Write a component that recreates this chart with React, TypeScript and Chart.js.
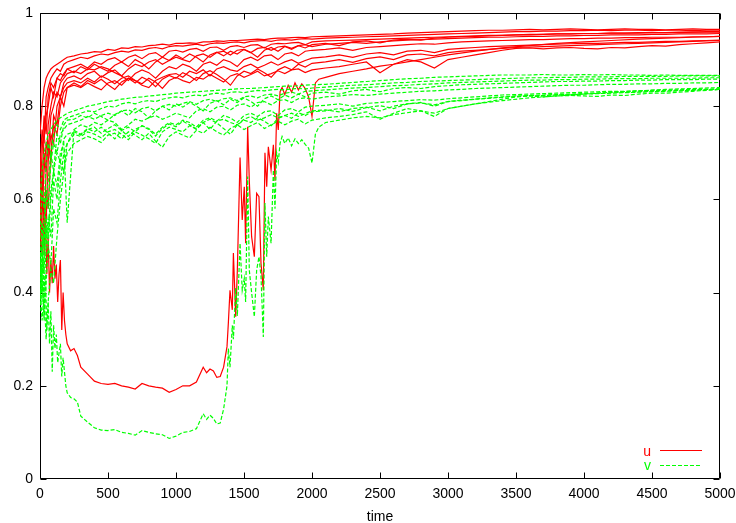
import React, { useEffect, useRef } from "react";
import { Chart, registerables } from "chart.js";

Chart.register(...registerables);

// ---- axis ticks ----
const X_TICKS = [0, 500, 1000, 1500, 2000, 2500, 3000, 3500, 4000, 4500, 5000];
const Y_TICKS = [0, 0.2, 0.4, 0.6, 0.8, 1];

// ---- common time grid for the regular runs ----
const TIME = [
  0, 15, 30, 45, 60, 80, 100, 125, 150, 175, 200,
  250, 300, 350, 400, 450, 500, 550, 600, 650, 700, 750, 800, 850, 900, 950, 1000,
  1050, 1100, 1150, 1200, 1250, 1300, 1350, 1400, 1450, 1500, 1550, 1600, 1650, 1700,
  1750, 1800, 1850, 1900, 1950, 2000,
  2100, 2200, 2300, 2400, 2500, 2600, 2700, 2800, 2900, 3000, 3100, 3200, 3300, 3400,
  3500, 3600, 3700, 3800, 3900, 4000, 4100, 4200, 4300, 4400, 4500, 4600, 4700, 4800, 4900, 5000,
];

// ---- u runs (red) ----
const U1 = [
  0.74, 0.8, 0.84, 0.86, 0.87, 0.88, 0.885, 0.89, 0.895, 0.9, 0.905,
  0.908, 0.912, 0.914, 0.917, 0.916, 0.922, 0.92, 0.925, 0.924, 0.928, 0.927, 0.93, 0.931, 0.933, 0.931, 0.935, 0.935, 0.936, 0.935, 0.938, 0.938, 0.94, 0.939, 0.941, 0.941, 0.942, 0.943, 0.944, 0.943, 0.945, 0.946, 0.946, 0.947, 0.948, 0.947, 0.949,
  0.95, 0.951, 0.952, 0.953, 0.954, 0.955, 0.957, 0.958, 0.959, 0.96, 0.961, 0.962, 0.963, 0.963, 0.964, 0.965, 0.964, 0.965, 0.966, 0.965, 0.964, 0.965, 0.966, 0.965, 0.965, 0.964, 0.965, 0.966, 0.965, 0.965,
];
const U2 = [
  0.66, 0.75, 0.72, 0.82, 0.84, 0.86, 0.87, 0.88, 0.875, 0.89, 0.895,
  0.9, 0.905, 0.902, 0.908, 0.912, 0.91, 0.915, 0.918, 0.916, 0.921, 0.92, 0.924, 0.926, 0.923, 0.928, 0.93, 0.929, 0.931, 0.933, 0.93, 0.934, 0.936, 0.935, 0.937, 0.938, 0.936, 0.939, 0.94, 0.941, 0.939, 0.942, 0.943, 0.942, 0.944, 0.945, 0.944,
  0.946, 0.947, 0.948, 0.949, 0.95, 0.951, 0.952, 0.953, 0.954, 0.955, 0.956, 0.957, 0.958, 0.959, 0.96, 0.96, 0.961, 0.961, 0.962, 0.962, 0.963, 0.962, 0.963, 0.963, 0.962, 0.963, 0.963, 0.962, 0.963, 0.963,
];
const U3 = [
  0.6, 0.7, 0.78, 0.74, 0.82, 0.85, 0.84, 0.86, 0.87, 0.865, 0.88,
  0.885, 0.89, 0.882, 0.895, 0.89, 0.9, 0.904, 0.895, 0.905, 0.91, 0.902, 0.912, 0.915, 0.905, 0.918, 0.92, 0.916, 0.922, 0.924, 0.918, 0.926, 0.927, 0.92, 0.928, 0.93, 0.926, 0.931, 0.932, 0.925, 0.933, 0.935, 0.934, 0.936, 0.937, 0.932, 0.938,
  0.94, 0.941, 0.942, 0.943, 0.944, 0.945, 0.946, 0.947, 0.948, 0.949, 0.95, 0.951, 0.952, 0.952, 0.953, 0.954, 0.954, 0.955, 0.955, 0.956, 0.956, 0.957, 0.957, 0.957, 0.958, 0.958, 0.958, 0.959, 0.959, 0.959,
];
const U4 = [
  0.56, 0.64, 0.7, 0.66, 0.76, 0.8, 0.83, 0.82, 0.85, 0.86, 0.87,
  0.875, 0.87, 0.88, 0.878, 0.885, 0.88, 0.872, 0.865, 0.88, 0.89, 0.885, 0.895, 0.9, 0.89, 0.898, 0.905, 0.9, 0.895, 0.908, 0.912, 0.905, 0.915, 0.918, 0.91, 0.92, 0.922, 0.915, 0.924, 0.926, 0.92, 0.927, 0.929, 0.924, 0.93, 0.932, 0.928,
  0.933, 0.935, 0.937, 0.935, 0.938, 0.94, 0.942, 0.943, 0.944, 0.945, 0.946, 0.947, 0.948, 0.948, 0.949, 0.95, 0.95, 0.951, 0.951, 0.952, 0.952, 0.953, 0.953, 0.953, 0.954, 0.954, 0.955, 0.955, 0.955, 0.956,
];
const U5 = [
  0.62, 0.58, 0.66, 0.72, 0.7, 0.78, 0.8, 0.83, 0.82, 0.85, 0.86,
  0.865, 0.858, 0.87, 0.875, 0.862, 0.872, 0.878, 0.865, 0.855, 0.87, 0.878, 0.872, 0.86, 0.875, 0.885, 0.88, 0.89, 0.885, 0.875, 0.89, 0.895, 0.888, 0.9, 0.895, 0.885, 0.9, 0.905, 0.898, 0.908, 0.91, 0.9, 0.912, 0.915, 0.908, 0.918, 0.92,
  0.922, 0.925, 0.92, 0.926, 0.928, 0.93, 0.932, 0.934, 0.933, 0.936, 0.938, 0.939, 0.94, 0.941, 0.942, 0.943, 0.943, 0.944, 0.945, 0.945, 0.946, 0.946, 0.947, 0.947, 0.948, 0.948, 0.948, 0.949, 0.949, 0.95,
];
const U6 = [
  0.58, 0.52, 0.6, 0.55, 0.68, 0.74, 0.72, 0.8, 0.82, 0.84, 0.85,
  0.855, 0.85, 0.86, 0.852, 0.865, 0.858, 0.848, 0.86, 0.865, 0.855, 0.845, 0.84, 0.855, 0.862, 0.868, 0.87, 0.862, 0.875, 0.87, 0.878, 0.865, 0.88, 0.885, 0.878, 0.875, 0.885, 0.89, 0.882, 0.888, 0.895, 0.888, 0.895, 0.9, 0.892, 0.898, 0.903,
  0.906, 0.91, 0.905, 0.912, 0.915, 0.91, 0.918, 0.92, 0.915, 0.922, 0.924, 0.926, 0.928, 0.929, 0.93, 0.931, 0.932, 0.933, 0.934, 0.935, 0.935, 0.936, 0.937, 0.937, 0.938, 0.939, 0.939, 0.94, 0.941, 0.942,
];
const U7 = [
  0.55, 0.48, 0.56, 0.62, 0.58, 0.7, 0.76, 0.74, 0.8, 0.83, 0.84,
  0.845, 0.84, 0.85, 0.842, 0.835, 0.85, 0.855, 0.845, 0.86, 0.855, 0.848, 0.86, 0.852, 0.838, 0.855, 0.862, 0.855, 0.85, 0.862, 0.858, 0.868, 0.86, 0.852, 0.865, 0.87, 0.862, 0.868, 0.875, 0.865, 0.87, 0.876, 0.87, 0.878, 0.88, 0.872, 0.878,
  0.882, 0.885, 0.89, 0.895, 0.872, 0.89, 0.9, 0.895, 0.882, 0.9, 0.905, 0.91, 0.915, 0.92, 0.924, 0.925, 0.923, 0.925, 0.926, 0.924, 0.923, 0.926, 0.925, 0.928, 0.93, 0.929, 0.932, 0.934, 0.936, 0.938,
];
const U8 = [
  0.7, 0.62, 0.74, 0.78, 0.8, 0.84, 0.82, 0.86, 0.855, 0.87, 0.88,
  0.872, 0.885, 0.878, 0.89, 0.882, 0.875, 0.888, 0.895, 0.885, 0.9, 0.892, 0.88, 0.895, 0.905, 0.898, 0.91, 0.902, 0.912, 0.905, 0.895, 0.91, 0.916, 0.908, 0.918, 0.912, 0.922, 0.915, 0.905, 0.92, 0.926, 0.918, 0.928, 0.922, 0.93, 0.925, 0.932,
  0.935, 0.93, 0.938, 0.94, 0.936, 0.942, 0.944, 0.942, 0.946, 0.948, 0.949, 0.95, 0.951, 0.952, 0.953, 0.953, 0.954, 0.955, 0.955, 0.956, 0.956, 0.957, 0.957, 0.958, 0.958, 0.958, 0.959, 0.959, 0.96, 0.96,
];
const U9 = [
  0.5, 0.6, 0.54, 0.66, 0.72, 0.68, 0.78, 0.76, 0.82, 0.8, 0.84,
  0.85, 0.842, 0.855, 0.848, 0.858, 0.846, 0.836, 0.852, 0.86, 0.85, 0.862, 0.855, 0.842, 0.858, 0.866, 0.86, 0.872, 0.865, 0.855, 0.87, 0.876, 0.868, 0.858, 0.845, 0.865, 0.875, 0.87, 0.88, 0.872, 0.862, 0.878, 0.885, 0.878, 0.89, 0.884, 0.892,
  0.895, 0.9, 0.894, 0.902, 0.906, 0.9, 0.91, 0.912, 0.908, 0.915, 0.918, 0.92, 0.922, 0.924, 0.926, 0.927, 0.928, 0.929, 0.93, 0.931, 0.932, 0.933, 0.934, 0.935, 0.936, 0.937, 0.938, 0.939, 0.94, 0.941,
];

// ---- v runs (green) ----
const V1 = [
  0.6, 0.66, 0.7, 0.72, 0.74, 0.75, 0.76, 0.77, 0.775, 0.78, 0.785,
  0.79, 0.795, 0.8, 0.803, 0.806, 0.81, 0.812, 0.815, 0.817, 0.819, 0.82, 0.822, 0.823, 0.825, 0.826, 0.828, 0.829, 0.83, 0.831, 0.832, 0.833, 0.834, 0.835, 0.836, 0.837, 0.838, 0.838, 0.839, 0.84, 0.841, 0.842, 0.843, 0.843, 0.844, 0.845, 0.846,
  0.847, 0.849, 0.851, 0.853, 0.855, 0.857, 0.859, 0.86, 0.862, 0.863, 0.864, 0.865, 0.866, 0.867, 0.867, 0.867, 0.868, 0.867, 0.867, 0.868, 0.867, 0.868, 0.867, 0.867, 0.866, 0.867, 0.866, 0.866, 0.866, 0.866,
];
const V2 = [
  0.52, 0.62, 0.58, 0.68, 0.72, 0.7, 0.74, 0.76, 0.75, 0.77, 0.775,
  0.78, 0.785, 0.79, 0.788, 0.795, 0.8, 0.798, 0.805, 0.808, 0.805, 0.81, 0.812, 0.81, 0.815, 0.818, 0.82, 0.818, 0.822, 0.824, 0.822, 0.826, 0.828, 0.826, 0.83, 0.831, 0.829, 0.832, 0.834, 0.833, 0.835, 0.836, 0.835, 0.837, 0.838, 0.837, 0.839,
  0.841, 0.843, 0.845, 0.846, 0.848, 0.85, 0.851, 0.853, 0.854, 0.855, 0.856, 0.857, 0.858, 0.859, 0.86, 0.861, 0.861, 0.862, 0.862, 0.863, 0.863, 0.863, 0.864, 0.864, 0.864, 0.864, 0.865, 0.865, 0.865, 0.865,
];
const V3 = [
  0.45, 0.55, 0.5, 0.62, 0.58, 0.68, 0.72, 0.7, 0.74, 0.75, 0.76,
  0.765, 0.77, 0.778, 0.772, 0.78, 0.785, 0.78, 0.79, 0.792, 0.786, 0.795, 0.798, 0.79, 0.8, 0.804, 0.8, 0.806, 0.81, 0.804, 0.812, 0.815, 0.81, 0.816, 0.818, 0.812, 0.82, 0.822, 0.818, 0.824, 0.826, 0.822, 0.828, 0.83, 0.826, 0.832, 0.833,
  0.835, 0.837, 0.839, 0.84, 0.842, 0.844, 0.845, 0.847, 0.848, 0.85, 0.851, 0.852, 0.853, 0.854, 0.855, 0.856, 0.856, 0.857, 0.857, 0.858, 0.858, 0.859, 0.859, 0.859, 0.86, 0.86, 0.86, 0.86, 0.861, 0.861,
];
const V4 = [
  0.4, 0.5, 0.44, 0.56, 0.52, 0.62, 0.66, 0.63, 0.7, 0.72, 0.55,
  0.75, 0.76, 0.755, 0.765, 0.76, 0.77, 0.765, 0.75, 0.76, 0.772, 0.768, 0.775, 0.78, 0.772, 0.778, 0.785, 0.78, 0.775, 0.79, 0.795, 0.788, 0.798, 0.8, 0.792, 0.802, 0.805, 0.798, 0.808, 0.81, 0.803, 0.812, 0.814, 0.808, 0.816, 0.818, 0.815,
  0.82, 0.822, 0.825, 0.823, 0.826, 0.828, 0.83, 0.832, 0.833, 0.835, 0.836, 0.838, 0.839, 0.84, 0.841, 0.842, 0.843, 0.844, 0.845, 0.845, 0.846, 0.847, 0.847, 0.848, 0.848, 0.849, 0.849, 0.85, 0.85, 0.851,
];
const V5 = [
  0.46, 0.38, 0.48, 0.54, 0.5, 0.6, 0.66, 0.7, 0.68, 0.73, 0.74,
  0.745, 0.738, 0.75, 0.755, 0.742, 0.752, 0.76, 0.748, 0.735, 0.75, 0.758, 0.752, 0.74, 0.755, 0.765, 0.76, 0.77, 0.765, 0.755, 0.77, 0.775, 0.768, 0.78, 0.775, 0.765, 0.78, 0.785, 0.778, 0.788, 0.79, 0.78, 0.792, 0.795, 0.788, 0.798, 0.8,
  0.802, 0.805, 0.8, 0.806, 0.808, 0.81, 0.812, 0.814, 0.813, 0.816, 0.818, 0.82, 0.822, 0.824, 0.825, 0.826, 0.827, 0.828, 0.829, 0.83, 0.831, 0.832, 0.832, 0.833, 0.834, 0.834, 0.835, 0.836, 0.836, 0.837,
];
const V6 = [
  0.36, 0.44, 0.34, 0.42, 0.5, 0.46, 0.58, 0.55, 0.64, 0.7, 0.72,
  0.74, 0.735, 0.745, 0.74, 0.732, 0.745, 0.75, 0.74, 0.728, 0.745, 0.738, 0.73, 0.72, 0.745, 0.755, 0.75, 0.745, 0.758, 0.752, 0.765, 0.75, 0.768, 0.772, 0.765, 0.76, 0.772, 0.778, 0.77, 0.775, 0.782, 0.775, 0.78, 0.785, 0.778, 0.784, 0.79,
  0.792, 0.788, 0.795, 0.798, 0.79, 0.8, 0.805, 0.808, 0.8, 0.81, 0.812, 0.815, 0.818, 0.82, 0.822, 0.823, 0.824, 0.825, 0.826, 0.827, 0.828, 0.829, 0.83, 0.831, 0.832, 0.833, 0.834, 0.835, 0.836, 0.837,
];
const V7 = [
  0.42, 0.34, 0.4, 0.3, 0.38, 0.45, 0.42, 0.52, 0.6, 0.66, 0.7,
  0.72, 0.728, 0.735, 0.73, 0.722, 0.738, 0.742, 0.73, 0.745, 0.738, 0.728, 0.742, 0.725, 0.712, 0.735, 0.745, 0.738, 0.732, 0.748, 0.742, 0.755, 0.745, 0.738, 0.752, 0.76, 0.75, 0.758, 0.765, 0.752, 0.76, 0.768, 0.76, 0.768, 0.772, 0.762, 0.77,
  0.775, 0.778, 0.782, 0.788, 0.772, 0.785, 0.795, 0.79, 0.778, 0.795, 0.8, 0.805, 0.81, 0.815, 0.82, 0.822, 0.82, 0.822, 0.823, 0.822, 0.821, 0.824, 0.823, 0.826, 0.828, 0.828, 0.83, 0.832, 0.834, 0.836,
];
const V8 = [
  0.5, 0.44, 0.56, 0.6, 0.64, 0.7, 0.66, 0.74, 0.72, 0.76, 0.77,
  0.772, 0.78, 0.775, 0.785, 0.778, 0.77, 0.782, 0.79, 0.78, 0.795, 0.788, 0.775, 0.79, 0.8, 0.792, 0.805, 0.798, 0.808, 0.8, 0.79, 0.806, 0.812, 0.803, 0.815, 0.808, 0.818, 0.81, 0.8, 0.816, 0.822, 0.814, 0.824, 0.818, 0.826, 0.82, 0.828,
  0.83, 0.826, 0.833, 0.836, 0.831, 0.838, 0.84, 0.838, 0.842, 0.844, 0.846, 0.847, 0.848, 0.849, 0.85, 0.851, 0.852, 0.853, 0.853, 0.854, 0.854, 0.855, 0.855, 0.856, 0.856, 0.857, 0.857, 0.857, 0.858, 0.858,
];
const V9 = [
  0.38, 0.46, 0.4, 0.5, 0.56, 0.52, 0.64, 0.6, 0.68, 0.66, 0.72,
  0.748, 0.74, 0.752, 0.745, 0.755, 0.742, 0.73, 0.748, 0.755, 0.745, 0.758, 0.75, 0.736, 0.752, 0.762, 0.756, 0.768, 0.76, 0.75, 0.765, 0.772, 0.764, 0.752, 0.74, 0.76, 0.77, 0.765, 0.775, 0.768, 0.758, 0.774, 0.78, 0.774, 0.786, 0.78, 0.788,
  0.79, 0.795, 0.789, 0.797, 0.801, 0.795, 0.805, 0.807, 0.803, 0.81, 0.813, 0.815, 0.817, 0.819, 0.821, 0.822, 0.823, 0.824, 0.825, 0.826, 0.827, 0.828, 0.829, 0.83, 0.831, 0.832, 0.833, 0.834, 0.835, 0.836,
];

// ---- the run that collapses and recovers (finer time grid) ----
const TIME_D = [
  0, 10, 20, 30, 40, 50, 60, 70, 80, 90, 100, 110, 120, 130, 140, 150, 160, 170, 180, 190, 200,
  225, 250, 275, 300,
  350, 400, 450, 500, 550, 600, 650, 700, 750, 800, 850, 900, 950, 1000, 1050, 1100, 1150, 1200,
  1225, 1250, 1275, 1300, 1325, 1350,
  1375, 1385, 1397, 1414, 1422, 1439, 1451, 1471, 1487, 1502, 1512, 1527, 1539, 1556, 1576, 1593,
  1610, 1625, 1642, 1654, 1667, 1679, 1699, 1716, 1728, 1740, 1752, 1765,
  1780, 1800, 1825, 1850, 1875, 1900, 1925, 1950, 1975, 2000, 2025, 2050,
  2100, 2200, 2300, 2400, 2500, 2600, 2700, 2800, 2900, 3000,
  3200, 3400, 3600, 3800, 4000, 4200, 4400, 4600, 4800, 5000,
];
const U_DIP = [
  0.62, 0.55, 0.66, 0.48, 0.58, 0.44, 0.52, 0.4, 0.47, 0.42, 0.5, 0.43, 0.46, 0.38, 0.44, 0.47, 0.32, 0.4, 0.34, 0.31, 0.29,
  0.275, 0.28, 0.265, 0.24,
  0.225, 0.21, 0.205, 0.203, 0.205, 0.2, 0.197, 0.193, 0.205, 0.2, 0.197, 0.195, 0.186, 0.192, 0.2, 0.2, 0.208, 0.24,
  0.228, 0.236, 0.232, 0.218, 0.22, 0.24,
  0.284, 0.335, 0.405, 0.363, 0.485, 0.348, 0.448, 0.69, 0.556, 0.627, 0.506, 0.756, 0.64, 0.52, 0.477, 0.613,
  0.606, 0.463, 0.405, 0.7, 0.627, 0.713, 0.663, 0.717, 0.64, 0.785, 0.749, 0.831,
  0.84, 0.825, 0.845, 0.83, 0.85, 0.835, 0.848, 0.838, 0.82, 0.778, 0.85, 0.858,
  0.862, 0.87, 0.875, 0.88, 0.886, 0.89, 0.895, 0.9, 0.905, 0.91,
  0.918, 0.925, 0.93, 0.935, 0.938, 0.941, 0.944, 0.946, 0.948, 0.95,
];
const V_DIP = [
  0.48, 0.4, 0.52, 0.35, 0.44, 0.32, 0.38, 0.29, 0.36, 0.23, 0.33, 0.28, 0.31, 0.25, 0.27, 0.29, 0.22, 0.26, 0.23, 0.2, 0.185,
  0.175, 0.172, 0.165, 0.135,
  0.122, 0.11, 0.105, 0.104, 0.106, 0.1, 0.098, 0.094, 0.104, 0.1, 0.097, 0.095, 0.087, 0.092, 0.1, 0.102, 0.108, 0.14,
  0.128, 0.137, 0.13, 0.118, 0.12, 0.15,
  0.2, 0.28, 0.24, 0.33, 0.3, 0.41, 0.35, 0.506, 0.405, 0.43, 0.38, 0.649, 0.448, 0.4, 0.348, 0.448,
  0.477, 0.435, 0.305, 0.592, 0.477, 0.563, 0.506, 0.663, 0.58, 0.7, 0.68, 0.72,
  0.735, 0.72, 0.732, 0.715, 0.73, 0.72, 0.728, 0.718, 0.71, 0.678, 0.74, 0.755,
  0.765, 0.77, 0.775, 0.778, 0.775, 0.782, 0.786, 0.79, 0.785, 0.795,
  0.805, 0.812, 0.818, 0.822, 0.826, 0.83, 0.833, 0.836, 0.838, 0.84,
];

const U_RUNS = [U1, U2, U3, U4, U5, U6, U7, U8, U9];
const V_RUNS = [V1, V2, V3, V4, V5, V6, V7, V8, V9];

const RED = "#ff0000";
const GREEN = "#00ff00";
const FONT = '"Liberation Sans", Arial, Helvetica, sans-serif';

const toPoints = (t: number[], v: number[]) => t.map((x, i) => ({ x, y: v[i] }));

const framePlugin = {
  id: "gnuFrame",
  beforeDatasetsDraw(chart: any) {
    const { ctx, chartArea: a, scales } = chart;
    const L = Math.round(a.left) + 0.5;
    const R = Math.round(a.right) - 0.5;
    const T = Math.round(a.top) + 0.5;
    const B = Math.round(a.bottom) - 0.5;
    ctx.save();
    ctx.strokeStyle = "#000";
    ctx.lineWidth = 1;
    ctx.beginPath();
    ctx.rect(L, T, R - L, B - T);
    for (const t of X_TICKS) {
      const x = Math.round(scales.x.getPixelForValue(t)) + 0.5;
      ctx.moveTo(x, B);
      ctx.lineTo(x, B - 6);
      ctx.moveTo(x, T);
      ctx.lineTo(x, T + 6);
    }
    for (const v of Y_TICKS) {
      const y = Math.round(scales.y.getPixelForValue(v)) + 0.5;
      ctx.moveTo(L, y);
      ctx.lineTo(L + 6, y);
      ctx.moveTo(R, y);
      ctx.lineTo(R - 6, y);
    }
    ctx.stroke();
    ctx.restore();
  },
  afterDraw(chart: any) {
    const { ctx } = chart;
    ctx.save();
    ctx.font = `14px ${FONT}`;
    ctx.textAlign = "right";
    ctx.textBaseline = "alphabetic";
    ctx.fillStyle = RED;
    ctx.fillText("u", 651, 456);
    ctx.fillStyle = GREEN;
    ctx.fillText("v", 651, 470);
    ctx.lineWidth = 1;
    ctx.strokeStyle = RED;
    ctx.beginPath();
    ctx.moveTo(660, 450.5);
    ctx.lineTo(702, 450.5);
    ctx.stroke();
    ctx.strokeStyle = GREEN;
    ctx.setLineDash([4, 2]);
    ctx.beginPath();
    ctx.moveTo(660, 465.5);
    ctx.lineTo(702, 465.5);
    ctx.stroke();
    ctx.restore();
  },
};

export default function App() {
  const ref = useRef<HTMLCanvasElement>(null);
  useEffect(() => {
    if (!ref.current) return;
    const datasets: any[] = [];
    V_RUNS.forEach((v) =>
      datasets.push({ data: toPoints(TIME, v), borderColor: GREEN, borderWidth: 1.2, borderDash: [4, 2] })
    );
    datasets.push({ data: toPoints(TIME_D, V_DIP), borderColor: GREEN, borderWidth: 1.2, borderDash: [4, 2] });
    U_RUNS.forEach((u) => datasets.push({ data: toPoints(TIME, u), borderColor: RED, borderWidth: 1.2 }));
    datasets.push({ data: toPoints(TIME_D, U_DIP), borderColor: RED, borderWidth: 1.2 });

    const tickFont = { family: FONT, size: 14 };
    const chart = new Chart(ref.current, {
      type: "line",
      data: { datasets },
      options: {
        animation: false,
        responsive: false,
        events: [],
        layout: { padding: { top: 13, right: 16, left: 0, bottom: 0 } },
        plugins: { legend: { display: false }, tooltip: { enabled: false } },
        elements: { point: { radius: 0 }, line: { tension: 0, fill: false } },
        scales: {
          x: {
            type: "linear",
            min: 0,
            max: 5000,
            grid: { display: false, drawTicks: false },
            border: { display: false },
            ticks: {
              stepSize: 500,
              autoSkip: false,
              maxRotation: 0,
              padding: 7,
              color: "#000",
              font: tickFont,
              callback: (v: any) => String(v),
            },
            title: { display: true, text: "time", color: "#000", font: tickFont, padding: { top: 0, bottom: -3 } },
            afterFit: (s: any) => {
              s.height = 44;
              s.paddingLeft = 0;
              s.paddingRight = 0;
            },
          },
          y: {
            type: "linear",
            min: 0,
            max: 1,
            grid: { display: false, drawTicks: false },
            border: { display: false },
            ticks: {
              stepSize: 0.2,
              padding: 7,
              color: "#000",
              font: tickFont,
              callback: (v: any) => String(Math.round(Number(v) * 10) / 10),
            },
            afterFit: (s: any) => {
              s.width = 40;
              s.paddingTop = 0;
              s.paddingBottom = 0;
            },
          },
        },
      },
      plugins: [framePlugin],
    } as any);
    return () => chart.destroy();
  }, []);
  return (
    <div style={{ position: "absolute", left: 0, top: 0, width: 736, height: 523, background: "#fff" }}>
      <canvas ref={ref} width={736} height={523} style={{ display: "block" }} />
    </div>
  );
}
